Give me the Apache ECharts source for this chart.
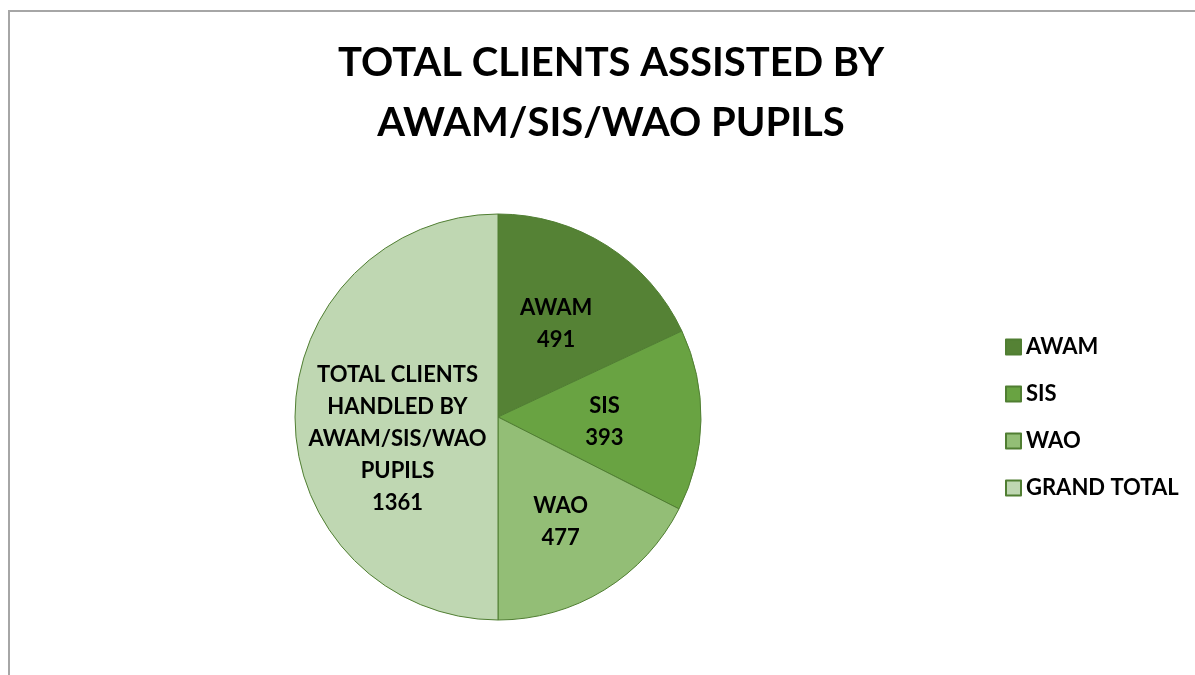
<!DOCTYPE html>
<html>
<head>
<meta charset="utf-8">
<script src="https://cdn.jsdelivr.net/npm/echarts@6/dist/echarts.min.js"></script>
<style>
  html, body { margin: 0; padding: 0; background: #fff; }
  #frame {
    position: absolute; left: 8px; top: 10px; right: 0; bottom: 0;
    border-left: 2px solid #a6a6a6; border-top: 2px solid #a6a6a6;
  }
  #chart { position: absolute; left: 0; top: 0; width: 1195px; height: 675px; }
</style>
</head>
<body>
<div id="frame"></div>
<div id="chart"></div>
<script>
// data
let categories = ['AWAM', 'SIS', 'WAO', 'GRAND TOTAL']
let values = [491, 393, 477, 1361]
let sliceLabels = ['AWAM', 'SIS', 'WAO', 'TOTAL CLIENTS\nHANDLED BY\nAWAM/SIS/WAO\nPUPILS']
let colors = ['#558235', '#69a342', '#93be76', '#bfd7b2']
// nudge labels to where excel put them
let labelOffsets = [[2, -5], [2, 3], [8, 16], [4, 22]]

let myChart = echarts.init(document.getElementById('chart'))
let pieData = categories.map((c, i) => {
  return {
    name: c,
    value: values[i],
    label: { formatter: sliceLabels[i] + '\n{c}', offset: labelOffsets[i] }
  }
})

myChart.setOption({
  color: colors,
  title: {
    text: 'TOTAL CLIENTS ASSISTED BY\nAWAM/SIS/WAO PUPILS',
    left: 606,
    textAlign: 'center',
    top: 28,
    textStyle: {
      fontFamily: 'Lato',
      fontWeight: 'bold',
      fontSize: 40,
      lineHeight: 60,
      color: '#000'
    }
  },
  legend: {
    orient: 'vertical',
    left: 1000,
    top: 331,
    itemWidth: 15,
    itemHeight: 15,
    itemGap: 25,
    icon: 'rect',
    data: categories,
    textStyle: {
      fontFamily: 'Lato',
      fontWeight: 'bold',
      fontSize: 22,
      color: '#000',
      padding: [0, 0, 0, 0]
    }
  },
  series: [
    {
      name: 'clients',
      type: 'pie',
      center: [498, 417],
      radius: 203,
      startAngle: 90,
      clockwise: true,
      animation: false,
      itemStyle: {
        borderColor: '#507e32',
        borderWidth: 1
      },
      label: {
        show: true,
        position: 'inside',
        fontFamily: 'Lato',
        fontWeight: 'bold',
        fontSize: 22,
        lineHeight: 32,
        color: '#000'
      },
      labelLine: { show: false },
      emphasis: { disabled: true },
      data: pieData
    }
  ]
})
</script>
</body>
</html>
